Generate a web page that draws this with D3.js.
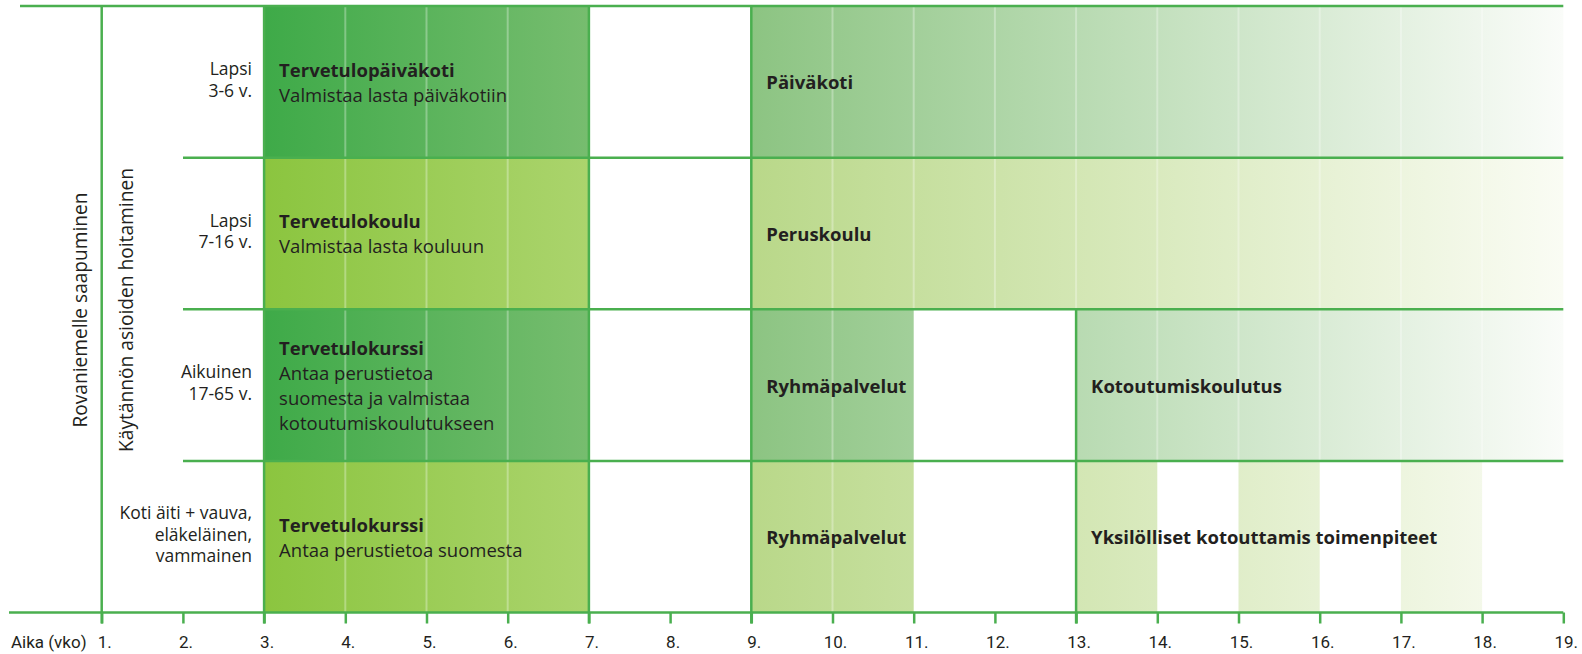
<!DOCTYPE html>
<html>
<head>
<meta charset="utf-8">
<script src="https://cdn.jsdelivr.net/npm/d3@7"></script>
<style>
  body { margin: 0; background: #fff; }
  text { font-family: "Open Sans", Roboto, sans-serif; fill: #231f20; }
  .tick text, .axis-title { font-family: Roboto, sans-serif; }
</style>
</head>
<body>
<div id="chart"></div>
<script>
// weeks on the time axis
const weeks = d3.range(1, 20);
const axisTitle = "Aika (vko)";

// row labels (one list of lines per row)
const rowLabels = [
  ["Lapsi", "3-6 v."],
  ["Lapsi", "7-16 v."],
  ["Aikuinen", "17-65 v."],
  ["Koti äiti + vauva,", "eläkeläinen,", "vammainen"]
];
const sideLabels = ["Rovaniemelle saapuminen", "Käytännön asioiden hoitaminen"];

// blocks: row, start week, end week, tone, bold title, extra lines
const blockRow   = [0, 0, 1, 1, 2, 2, 2, 3, 3, 3, 3, 3];
const blockStart = [3, 9, 3, 9, 3, 9, 13, 3, 9, 13, 15, 17];
const blockEnd   = [7, 19, 7, 19, 7, 11, 19, 7, 11, 14, 16, 18];
const blockTone  = ["dark", "light", "lime", "pale", "dark", "light", "light", "lime", "pale", "pale", "pale", "pale"];
const blockTitle = ["Tervetulopäiväkoti", "Päiväkoti", "Tervetulokoulu", "Peruskoulu",
  "Tervetulokurssi", "Ryhmäpalvelut", "Kotoutumiskoulutus",
  "Tervetulokurssi", "Ryhmäpalvelut", "Yksilölliset kotouttamis toimenpiteet", "", ""];
const blockText = [
  ["Valmistaa lasta päiväkotiin"], [],
  ["Valmistaa lasta kouluun"], [],
  ["Antaa perustietoa", "suomesta ja valmistaa", "kotoutumiskoulutukseen"], [], [],
  ["Antaa perustietoa suomesta"], [], [], [], []
];
// weeks with a full height line, and the one that starts at the third row
const fullLines = [1, 3, 7, 9];
const halfLines = [13];

const width = 1582, height = 654;
const green = "#4aaf4f";

const svg = d3.select("#chart").append("svg")
  .attr("width", width)
  .attr("height", height);

const x = d3.scaleLinear().domain([1, 19]).range([101.7, 1563.3]);
const y = d3.scaleLinear().domain([0, 4]).range([6, 612.5]);

// gradients
const defs = svg.append("defs");
function grad(id, c0, c1, userSpace) {
  const g = defs.append("linearGradient").attr("id", id);
  if (userSpace) {
    g.attr("gradientUnits", "userSpaceOnUse")
      .attr("x1", x(9)).attr("x2", x(19)).attr("y1", 0).attr("y2", 0);
  }
  g.append("stop").attr("offset", 0).attr("stop-color", c0);
  g.append("stop").attr("offset", 1).attr("stop-color", c1);
}
grad("dark", "#3eaa48", "#77bd6f", false);
grad("lime", "#8bc53f", "#abd46d", false);
grad("light", "#8cc482", "#fafcf9", true);
grad("pale", "#b9d889", "#fafcf4", true);

const blocks = blockRow.map((r, i) => ({
  row: r, start: blockStart[i], end: blockEnd[i], tone: blockTone[i],
  lines: blockTitle[i] ? [blockTitle[i]].concat(blockText[i]) : []
}));

// block fills
svg.append("g").selectAll("rect")
  .data(blocks)
  .enter().append("rect")
  .attr("x", d => x(d.start))
  .attr("y", d => y(d.row))
  .attr("width", d => x(d.end) - x(d.start))
  .attr("height", d => y(d.row + 1) - y(d.row))
  .attr("fill", d => "url(#" + d.tone + ")");

// faint week lines inside blocks
const inner = [];
blocks.forEach(b => {
  for (let w = b.start + 1; w < b.end; w++) inner.push({ w: w, row: b.row });
});
svg.append("g").selectAll("line")
  .data(inner)
  .enter().append("line")
  .attr("x1", d => x(d.w)).attr("x2", d => x(d.w))
  .attr("y1", d => y(d.row)).attr("y2", d => y(d.row + 1))
  .attr("stroke", "#fff")
  .attr("stroke-opacity", 0.3)
  .attr("stroke-width", 2);

// grid lines
const grid = svg.append("g").attr("stroke", green).attr("stroke-width", 2.5);
grid.append("line").attr("x1", 20).attr("x2", x(19)).attr("y1", y(0)).attr("y2", y(0));
grid.selectAll(".sep")
  .data([1, 2, 3])
  .enter().append("line")
  .attr("x1", 183).attr("x2", x(19))
  .attr("y1", d => y(d)).attr("y2", d => y(d));
grid.append("line").attr("x1", 9).attr("x2", x(19)).attr("y1", y(4)).attr("y2", y(4));
grid.selectAll(".full")
  .data(fullLines)
  .enter().append("line")
  .attr("x1", d => x(d)).attr("x2", d => x(d))
  .attr("y1", y(0)).attr("y2", y(4) + 11);
grid.selectAll(".half")
  .data(halfLines)
  .enter().append("line")
  .attr("x1", d => x(d)).attr("x2", d => x(d))
  .attr("y1", y(2)).attr("y2", y(4) + 11);

// axis
const axis = svg.append("g")
  .attr("transform", "translate(0," + y(4) + ")")
  .call(d3.axisBottom(x).tickValues(weeks).tickSize(11).tickFormat(d => d + "."));
axis.select(".domain").remove();
axis.selectAll(".tick line").attr("stroke", green).attr("stroke-width", 2.5);
axis.selectAll(".tick text")
  .attr("x", 2.5)
  .attr("y", 35.5)
  .attr("dy", 0)
  .attr("fill", "#231f20")
  .style("font-size", "17px");
svg.append("text")
  .attr("class", "axis-title")
  .attr("x", 11)
  .attr("y", y(4) + 35.5)
  .style("font-size", "17px")
  .text(axisTitle);

// side labels, rotated; font size fitted to the length they have in the original
const sideLen = [235, 284];
svg.selectAll(".side")
  .data(sideLabels)
  .enter().append("text")
  .attr("transform", (d, i) => "translate(" + [87, 133][i] + ",310) rotate(-90)")
  .attr("text-anchor", "middle")
  .style("font-size", "20px")
  .text(d => d)
  .each(function (d, i) {
    const len = this.getComputedTextLength();
    if (len > 0) d3.select(this).style("font-size", (20 * sideLen[i] / len).toFixed(2) + "px");
  });

// row labels
const lh = 21.5;
rowLabels.forEach((lines, r) => {
  const c = (y(r) + y(r + 1)) / 2;
  svg.append("text")
    .attr("text-anchor", "end")
    .style("font-size", "17.5px")
    .selectAll("tspan")
    .data(lines)
    .enter().append("tspan")
    .attr("x", 252)
    .attr("y", (d, i) => c - (lines.length - 1) * lh / 2 + 4 + i * lh)
    .text(d => d);
});

// block labels
const blh = 25;
blocks.filter(b => b.lines.length).forEach(b => {
  const c = (y(b.row) + y(b.row + 1)) / 2 + 1.5;
  svg.append("text")
    .selectAll("tspan")
    .data(b.lines)
    .enter().append("tspan")
    .attr("x", x(b.start) + 15)
    .attr("y", (d, i) => c - (b.lines.length - 1) * blh / 2 + 6 + i * blh)
    .style("font-weight", (d, i) => i === 0 ? "bold" : "normal")
    .style("font-size", (d, i) => i === 0 ? "18.5px" : "18.5px")
    .text(d => d);
});
</script>
</body>
</html>
